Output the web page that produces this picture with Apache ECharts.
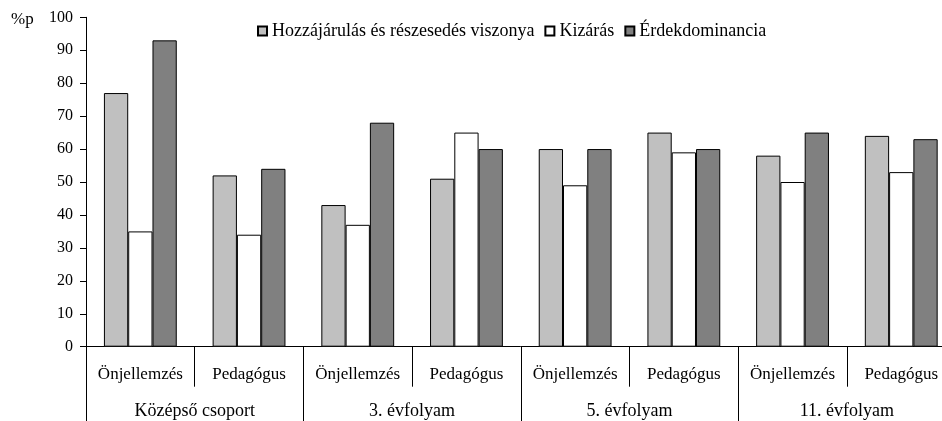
<!DOCTYPE html>
<html>
<head>
<meta charset="utf-8">
<script src="https://cdn.jsdelivr.net/npm/echarts@6/dist/echarts.min.js"></script>
<style>
  html, body { margin: 0; padding: 0; background: #fff; overflow: hidden; }
  #chart { width: 960px; height: 421px; }
</style>
</head>
<body>
<div id="chart"></div>
<script>
  // kategóriák
  var subLabels = ['Önjellemzés', 'Pedagógus', 'Önjellemzés', 'Pedagógus',
                   'Önjellemzés', 'Pedagógus', 'Önjellemzés', 'Pedagógus']
  var groupLabels = ['Középső csoport', '3. évfolyam', '5. évfolyam', '11. évfolyam']
  var seriesNames = ['Hozzájárulás és részesedés viszonya', 'Kizárás', 'Érdekdominancia']

  // értékek (%p)
  var hozzajarulas = [77, 52, 43, 51, 60, 65, 58, 64]
  var kizaras = [35, 34, 37, 65, 49, 59, 50, 53]
  var erdekdominancia = [93, 54, 68, 60, 60, 60, 65, 63]

  var fontFamily = '"Liberation Serif", "Times New Roman", serif'
  var chart = echarts.init(document.getElementById('chart'))

  function bar(name, data, color) {
    return {
      name: name,
      type: 'bar',
      data: data,
      barGap: '0%',
      barCategoryGap: '33%',
      itemStyle: { color: color, borderColor: '#000', borderWidth: 1 }
    }
  }

  chart.setOption({
    animation: false,
    textStyle: { fontFamily: fontFamily, color: '#000' },
    title: {
      text: '%p',
      left: 6,
      top: 6,
      textStyle: { fontFamily: fontFamily, fontSize: 17, fontWeight: 'normal', color: '#000' }
    },
    legend: {
      left: 252,
      top: 17,
      itemWidth: 9,
      itemHeight: 9,
      itemGap: 10,
      icon: 'rect',
      textStyle: { fontFamily: fontFamily, fontSize: 18, color: '#000', padding: [0, 0, 0, 0] },
      data: seriesNames
    },
    grid: {
      left: 86,
      top: 17.3,
      width: 869.6,
      height: 329.4,
      containLabel: false
    },
    xAxis: [
      {
        type: 'category',
        data: subLabels,
        position: 'bottom',
        axisLine: { show: true, lineStyle: { color: '#000', width: 1 } },
        axisTick: { show: true, alignWithLabel: false, length: 40, lineStyle: { color: '#000', width: 1 } },
        axisLabel: { show: true, interval: 0, margin: 19, fontSize: 17, fontFamily: fontFamily, color: '#000' }
      },
      {
        type: 'category',
        data: groupLabels,
        position: 'bottom',
        axisLine: { show: false },
        axisTick: { show: true, alignWithLabel: false, length: 80, lineStyle: { color: '#000', width: 1 } },
        axisLabel: { show: true, interval: 0, margin: 56, fontSize: 18, fontFamily: fontFamily, color: '#000' }
      }
    ],
    yAxis: {
      type: 'value',
      min: 0,
      max: 100,
      interval: 10,
      splitLine: { show: false },
      axisLine: { show: true, lineStyle: { color: '#000', width: 1 } },
      axisTick: { show: true, length: 6, lineStyle: { color: '#000' } },
      axisLabel: { margin: 13, fontSize: 16, fontFamily: fontFamily, color: '#000' }
    },
    series: [
      bar(seriesNames[0], hozzajarulas, '#C0C0C0'),
      bar(seriesNames[1], kizaras, '#FFFFFF'),
      bar(seriesNames[2], erdekdominancia, '#808080')
    ]
  })
</script>
</body>
</html>
